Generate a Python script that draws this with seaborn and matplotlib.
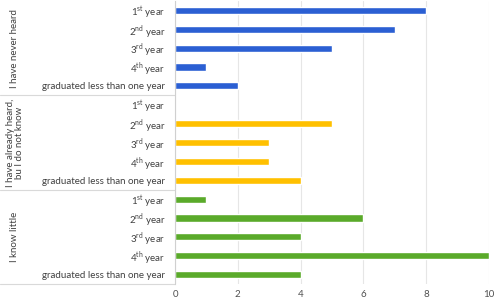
import matplotlib
matplotlib.use("Agg")
import matplotlib.pyplot as plt
import matplotlib.transforms as mtransforms
import seaborn as sns
import pandas as pd

# data
groups = ["I have never heard", "I have already heard,\nbu I do not know", "I know little"]
years = ["1$^{\\mathrm{st}}$ year", "2$^{\\mathrm{nd}}$ year", "3$^{\\mathrm{rd}}$ year",
         "4$^{\\mathrm{th}}$ year", "graduated less than one year"]
never_heard = [8, 7, 5, 1, 2]
heard_not_know = [0, 5, 3, 3, 4]
know_little = [1, 6, 4, 10, 4]
colors = ["#2B5FD3", "#FFC000", "#5AAA2A"]

rows = []
for g, vals in zip(groups, [never_heard, heard_not_know, know_little]):
    for y, v in zip(years, vals):
        rows.append({"row": g + "|" + y, "group": g, "year": y, "count": v})
df = pd.DataFrame(rows)

sns.set_style("white")
plt.rcParams["font.family"] = ["Lato", "DejaVu Sans"]
plt.rcParams["mathtext.fontset"] = "custom"
plt.rcParams["mathtext.rm"] = "Lato"

fig = plt.figure(figsize=(4.94, 3.0), dpi=100)
ax = fig.add_axes([175 / 494, 16 / 300, 314 / 494, 283 / 300])

sns.barplot(data=df, x="count", y="row", hue="group", palette=colors, dodge=False,
            width=0.38, saturation=1, legend=False, ax=ax)

ax.set_xlim(0, 10)
ax.set_ylim(14.5, -0.5)
ax.set_xticks(range(0, 11, 2))
ax.set_yticks(range(len(df)))
ax.set_yticklabels(df["year"])
ax.set_xlabel("")
ax.set_ylabel("")
ax.tick_params(axis="y", labelsize=7, colors="#404040", length=2, pad=5)
ax.tick_params(axis="x", labelsize=7, colors="#505050", length=0, pad=4)
ax.tick_params(axis="y", color="#d0d0d0")
ax.xaxis.grid(True, color="#e6e6e6", linewidth=0.8)
ax.set_axisbelow(True)
for s in ["top", "right", "bottom"]:
    ax.spines[s].set_visible(False)
ax.spines["left"].set_color("#d0d0d0")
ax.spines["left"].set_linewidth(0.8)

# group separators and labels on the left
trans = mtransforms.blended_transform_factory(ax.transAxes, ax.transData)
left = -175 / 314
for yy in [4.5, 9.5, 14.5]:
    ax.plot([left, 0], [yy, yy], transform=trans, color="#d9d9d9", linewidth=0.8, clip_on=False)
for i, g in enumerate(groups):
    ax.text(left + 15 / 314, i * 5 + 2, g, transform=trans, rotation=90, ha="center", va="center",
            fontsize=7, color="#404040", linespacing=1.0)

fig.savefig("out.png", dpi=100)
